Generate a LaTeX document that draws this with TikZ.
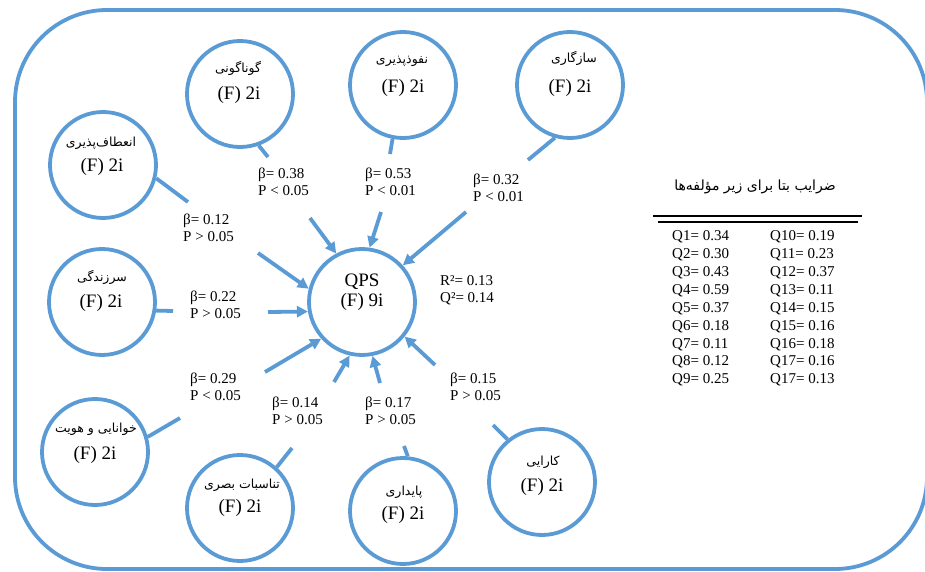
\documentclass[tikz,border=0pt]{standalone}
\usepackage{fontspec}
\setmainfont{Liberation Serif}
\newfontfamily\fa[Script=Arabic]{DejaVu Sans}
\TeXXeTstate=1
\usetikzlibrary{arrows.meta,calc}
\definecolor{lblue}{RGB}{91,155,213}
\tikzset{
  blob/.style={circle, draw=lblue, line width=3.8pt, minimum size=106pt, inner sep=0pt},
  link/.style={draw=lblue, line width=3.8pt},
  arr/.style={link, -{Triangle[length=11pt,width=11pt]}},
  fatxt/.style={font=\fa\fontsize{12.5}{14}\selectfont, inner sep=0pt},
  fatitle/.style={font=\fa\fontsize{14}{16}\selectfont, inner sep=0pt},
  ftxt/.style={font=\fontsize{19}{22}\selectfont, inner sep=0pt},
  stat/.style={font=\fontsize{15}{17}\selectfont, align=left, anchor=west, inner sep=0pt},
  tbl/.style={font=\fontsize{15}{17.9}\selectfont, align=left, anchor=west, inner sep=0pt},
}
\begin{document}
\begin{tikzpicture}[x=1pt,y=-1pt]
\useasboundingbox (0,0) rectangle (925,572);
\fill[white] (0,0) rectangle (925,572);
% frame
\draw[link, rounded corners=92pt] (15,10) rectangle (927,569);

% central node
\node[blob] (qps) at (362,302) {};
\node[ftxt] (qpst) at (362,282) {QPS};
\node[ftxt] (qpsf) at (362,302) {(F) 9i};
\node[stat] (rq) at (440,290) {R²= 0.13\\Q²= 0.14};

% satellites
\node[blob] (c1) at (240,94) {};
\node[fatxt] (l1) at (238,68) {\beginR گوناگونی\endR};
\node[ftxt] (f1) at (239,95) {(F) 2i};

\node[blob] (c2) at (403,85) {};
\node[fatxt] (l2) at (402,61) {\beginR نفوذپذیری\endR};
\node[ftxt] (f2) at (403,88) {(F) 2i};

\node[blob] (c3) at (570,85) {};
\node[fatxt] (l3) at (574,58) {\beginR سازگاری\endR};
\node[ftxt] (f3) at (570,88) {(F) 2i};

\node[blob] (c4) at (103,165) {};
\node[fatxt] (l4) at (101,143) {\beginR انعطاف‌پذیری\endR};
\node[ftxt] (f4) at (102,167) {(F) 2i};

\node[blob] (c5) at (102,302) {};
\node[fatxt] (l5) at (102,277) {\beginR سرزندگی\endR};
\node[ftxt] (f5) at (101,303) {(F) 2i};

\node[blob] (c6) at (95,452) {};
\node[fatxt] (l6) at (96,429) {\beginR خوانایی و هویت\endR};
\node[ftxt] (f6) at (95,455) {(F) 2i};

\node[blob] (c7) at (240,508) {};
\node[fatxt] (l7) at (242,485) {\beginR تناسبات بصری\endR};
\node[ftxt] (f7) at (240,508) {(F) 2i};

\node[blob] (c8) at (403,511) {};
\node[fatxt] (l8) at (404,492) {\beginR پایداری\endR};
\node[ftxt] (f8) at (403,515) {(F) 2i};

\node[blob] (c9) at (542,482) {};
\node[fatxt] (l9) at (543,462) {\beginR کارایی\endR};
\node[ftxt] (f9) at (542,487) {(F) 2i};

% stub ends and arrow starts
\coordinate (s1) at (268,157);  \coordinate (a1) at (310,218);
\coordinate (s2) at (390,154);  \coordinate (a2) at (381,212);
\coordinate (s3) at (528,160);  \coordinate (a3) at (466,212);
\coordinate (s4) at (188,202);  \coordinate (a4) at (258,253);
\coordinate (s5) at (173,311);  \coordinate (a5) at (268,312);
\coordinate (s6) at (180,418);  \coordinate (a6) at (265,372);
\coordinate (s7) at (292,448);  \coordinate (a7) at (334,382);
\coordinate (s8) at (404,446);  \coordinate (a8) at (380,383);
\coordinate (s9) at (493,425);  \coordinate (a9) at (435,365);

\draw[link] (c1.290) -- (s1);  \draw[arr] (a1) -- (qps.118);
\draw[link] (c2.259) -- (s2);  \draw[arr] (a2) -- (qps.82);
\draw[link] (c3.254) -- (s3);  \draw[arr] (a3) -- (qps.42);
\draw[link] (c4.346) -- (s4);  \draw[arr] (a4) -- (qps.166);
\draw[link] (c5.351) -- (s5);  \draw[arr] (a5) -- (qps.190);
\draw[link] (c6.16) -- (s6);   \draw[arr] (a6) -- (qps.222);
\draw[link] (c7.48) -- (s7);   \draw[arr] (a7) -- (qps.257);
\draw[link] (c8.85) -- (s8);   \draw[arr] (a8) -- (qps.281);
\draw[link] (c9.129) -- (s9);  \draw[arr] (a9) -- (qps.321);

% path coefficient labels
\node[stat] (b1) at (258,182) {β= 0.38\\P < 0.05};
\node[stat] (b2) at (365,182) {β= 0.53\\P < 0.01};
\node[stat] (b3) at (473,188) {β= 0.32\\P < 0.01};
\node[stat] (b4) at (183,228) {β= 0.12\\P > 0.05};
\node[stat] (b5) at (190,305) {β= 0.22\\P > 0.05};
\node[stat] (b6) at (190,387) {β= 0.29\\P < 0.05};
\node[stat] (b7) at (272,411) {β= 0.14\\P > 0.05};
\node[stat] (b8) at (365,411) {β= 0.17\\P > 0.05};
\node[stat] (b9) at (450,387) {β= 0.15\\P > 0.05};

% table
\node[fatitle] (tt) at (755,187) {\beginR ضرایب بتا برای زیر مؤلفه‌ها\endR};
\draw[line width=1.3pt] (653,216) -- (862,216);
\draw[line width=1.3pt] (658,222) -- (858,222);
\node[tbl] (colA) at (672,308.5) {Q1= 0.34\\Q2= 0.30\\Q3= 0.43\\Q4= 0.59\\Q5= 0.37\\Q6= 0.18\\Q7= 0.11\\Q8= 0.12\\Q9= 0.25};
\node[tbl] (colB) at (770,308.5) {Q10= 0.19\\Q11= 0.23\\Q12= 0.37\\Q13= 0.11\\Q14= 0.15\\Q15= 0.16\\Q16= 0.18\\Q17= 0.16\\Q17= 0.13};
\end{tikzpicture}
\end{document}
